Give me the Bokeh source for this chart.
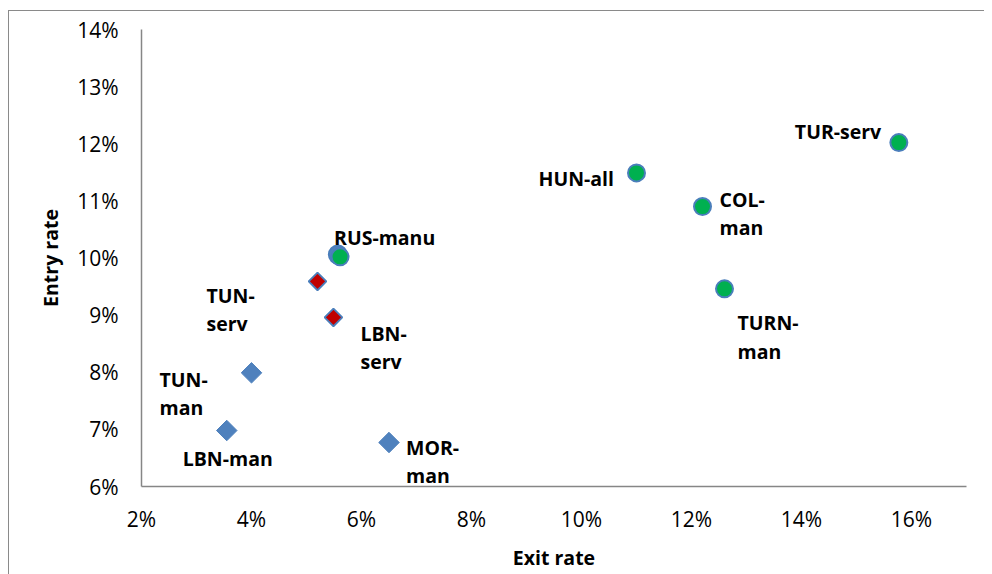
from bokeh.plotting import figure
from bokeh.models import ColumnDataSource, Range1d, FixedTicker, PrintfTickFormatter
from bokeh.core.properties import value
from bokeh.embed import file_html
from bokeh.resources import INLINE

# ---- data (percent) ----
blue_names = ["TUN-\nman", "LBN-man", "MOR-\nman"]
blue_exit = [4.0, 3.55, 6.5]
blue_entry = [7.99, 6.98, 6.77]

red_names = ["TUN-\nserv", "LBN-\nserv"]
red_exit = [5.2, 5.49]
red_entry = [9.59, 8.96]

green_names = ["RUS-manu", "HUN-all", "COL-\nman", "TURN-\nman", "TUR-serv"]
green_exit = [5.61, 11.0, 12.2, 12.6, 15.77]
green_entry = [10.02, 11.49, 10.9, 9.46, 12.02]

extra_exit = [5.57]
extra_entry = [10.06]

x_ticks = [2, 4, 6, 8, 10, 12, 14, 16]
y_ticks = [6, 7, 8, 9, 10, 11, 12, 13, 14]

# label offsets in screen pixels (left edge, vertical centre of the block)
blue_dx = [-92, -44, 17]
blue_dy = [21, 28, 19]
red_dx = [-111, 27]
red_dy = [28, 30]
green_dx = [-6, -98, 17, 13, -104]
green_dy = [-19, 6, 7, 48, -11]

FONT = "Open Sans"
AXIS_COL = "#868686"
BLUE = "#4F81BD"
RED = "#C00000"
GREEN = "#00B050"
OUTLINE = "#4A7EBB"
BORDER = "#8a8a8a"

p = figure(width=984, height=574, output_backend="svg", toolbar_location=None,
           x_range=Range1d(2, 17), y_range=Range1d(6, 14),
           min_border_left=141, min_border_right=18, min_border_top=29,
           min_border_bottom=88)
p.styles = {
    "background": (f"linear-gradient({BORDER},{BORDER}) 8px 10px / 1px 100% no-repeat, "
                   f"linear-gradient({BORDER},{BORDER}) 8px 10px / 100% 1px no-repeat, white")
}
p.outline_line_color = None
p.grid.visible = False
p.background_fill_color = None
p.border_fill_color = None

for ax in (p.xaxis[0], p.yaxis[0]):
    ax.axis_line_color = AXIS_COL
    ax.axis_line_width = 1.5
    ax.major_tick_line_color = None
    ax.minor_tick_line_color = None
    ax.major_tick_out = 0
    ax.major_tick_in = 0
    ax.major_label_text_font = FONT
    ax.major_label_text_font_size = "21px"
    ax.major_label_text_color = "#000000"
    ax.axis_label_text_font = FONT
    ax.axis_label_text_font_style = "bold"
    ax.axis_label_text_font_size = "19.5px"
    ax.axis_label_text_color = "#000000"
    ax.formatter = PrintfTickFormatter(format="%d%%")

p.xaxis[0].ticker = FixedTicker(ticks=x_ticks)
p.yaxis[0].ticker = FixedTicker(ticks=y_ticks)
p.xaxis[0].axis_label = "Exit rate"
p.yaxis[0].axis_label = "Entry rate"
p.xaxis[0].major_label_standoff = 18
p.xaxis[0].axis_label_standoff = 8
p.yaxis[0].major_label_standoff = 23
p.yaxis[0].axis_label_standoff = 10

# markers
p.scatter(blue_exit, blue_entry, marker="square", angle=0.785398, size=14.5,
          fill_color=BLUE, line_color=BLUE, line_width=1)
p.scatter(red_exit, red_entry, marker="square", angle=0.785398, size=12.5,
          fill_color=RED, line_color=OUTLINE, line_width=1.8)
p.scatter(extra_exit, extra_entry, marker="circle", size=18,
          fill_color=BLUE, line_color=OUTLINE, line_width=2)
p.scatter(green_exit, green_entry, marker="circle", size=17,
          fill_color=GREEN, line_color=OUTLINE, line_width=2)

# data labels
def add_labels(xs, ys, names, dx, dy):
    src = ColumnDataSource(dict(x=xs, y=ys, t=names, dx=dx, dy=dy))
    p.text(x="x", y="y", text="t", x_offset="dx", y_offset="dy", source=src,
           text_font=value(FONT), text_font_style="bold", text_font_size="19.5px",
           text_color="#000000", text_align="left", text_baseline="middle",
           text_line_height=1.05)

add_labels(blue_exit, blue_entry, blue_names, blue_dx, blue_dy)
add_labels(red_exit, red_entry, red_names, red_dx, red_dy)
add_labels(green_exit, green_entry, green_names, green_dx, green_dy)

open("out.html", "w").write(file_html(p, INLINE))
